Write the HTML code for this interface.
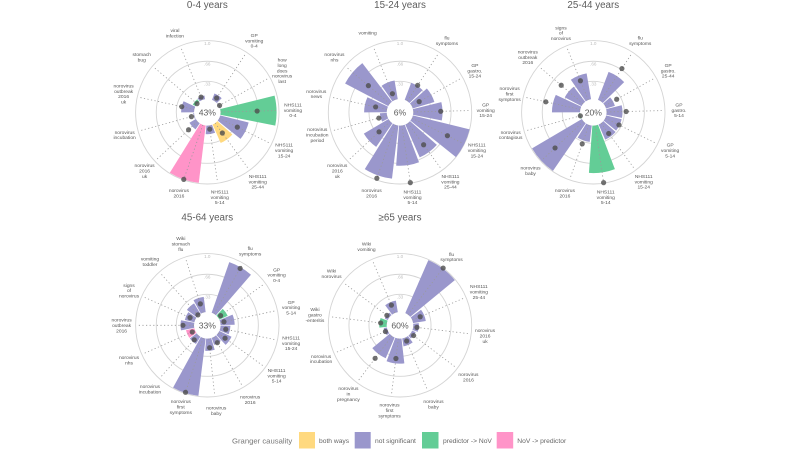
<!DOCTYPE html>
<html lang="en">
<head>
<meta charset="utf-8">
<title>Granger causality by age group</title>
<style>
  html, body { margin: 0; padding: 0; background: #fff; }
  body { width: 800px; height: 452px; overflow: hidden; }
  svg { display: block; filter: blur(0.35px); font-family: "Liberation Sans", sans-serif; }
</style>
</head>
<body>
<svg id="chart" width="800" height="452" viewBox="0 0 800 452" xmlns="http://www.w3.org/2000/svg">
  <g id="panels"></g>
  <g id="legend">
    <text x="232" y="443.4" font-size="7.7" fill="#777">Granger causality</text>
    <rect x="299" y="432" width="16" height="16.5" fill="#FFD97F"/>
    <text x="319" y="443" font-size="6.7" fill="#666">both ways</text>
    <rect x="354.7" y="432" width="16" height="16.5" fill="#9A97CC"/>
    <text x="375" y="443" font-size="6.7" fill="#666">not significant</text>
    <rect x="422" y="432" width="16.5" height="16.5" fill="#63CD96"/>
    <text x="443" y="443" font-size="6.7" fill="#666">predictor -&gt; NoV</text>
    <rect x="496.7" y="432" width="16.5" height="16.5" fill="#FF94C8"/>
    <text x="517.3" y="443" font-size="6.7" fill="#666">NoV -&gt; predictor</text>
  </g>
</svg>
<script>
// ---- data: 0-4 years ----
const categories04 = ["GP|vomiting|0-4", "how|long|does|norovirus|last", "NHS111|vomiting|0-4", "NHS111|vomiting|15-24", "NHS111|vomiting|25-44", "NHS111|vomiting|5-14", "norovirus|2016", "norovirus|2016|uk", "norovirus|incubation", "norovirus|outbreak|2016|uk", "stomach|bug", "viral|infection"];
const bars04 = [0.15, 0.05, 0.96, 0.52, 0.37, 0.18, 0.99, 0.16, 0.05, 0.25, 0.09, 0.10];
const dots04 = [0.10, 0.05, 0.64, 0.37, 0.24, 0.10, 0.99, 0.24, 0.09, 0.25, 0.04, 0.09];
const groups04 = ["ns", "ns", "pred", "ns", "both", "ns", "nov", "ns", "ns", "ns", "pred", "ns"];

// ---- data: 15-24 years ----
const categories1524 = ["flu|symptoms", "GP|gastro.|15-24", "GP|vomiting|15-24", "NHS111|vomiting|15-24", "NHS111|vomiting|25-44", "NHS111|vomiting|5-14", "norovirus|2016", "norovirus|2016|uk", "norovirus|incubation|period", "norovirus|news", "norovirus|nhs", "vomiting"];
const bars1524 = [0.34, 0.41, 0.52, 1.00, 0.63, 0.70, 0.92, 0.51, 0.15, 0.41, 0.84, 0.35];
const dots1524 = [0.35, 0.18, 0.49, 0.69, 0.48, 0.99, 0.97, 0.29, 0.18, 0.23, 0.50, 0.15];
const groups1524 = ["ns", "ns", "ns", "ns", "ns", "ns", "ns", "ns", "ns", "ns", "ns", "ns"];

// ---- data: 25-44 years ----
const categories2544 = ["flu|symptoms", "GP|gastro.|25-44", "GP|gastro.|5-14", "GP|vomiting|5-14", "NHS111|vomiting|15-24", "NHS111|vomiting|5-14", "norovirus|2016", "norovirus|baby", "norovirus|contagious", "norovirus|first|symptoms", "norovirus|outbreak|2016", "signs|of|norovirus"];
const bars2544 = [0.53, 0.19, 0.30, 0.30, 0.31, 0.82, 0.31, 0.99, 0.05, 0.50, 0.35, 0.47];
const dots2544 = [0.68, 0.26, 0.36, 0.29, 0.25, 0.99, 0.37, 0.68, 0.04, 0.62, 0.51, 0.38];
const groups2544 = ["ns", "ns", "ns", "ns", "ns", "pred", "ns", "ns", "pred", "ns", "ns", "ns"];

// ---- data: 45-64 years ----
const categories4564 = ["flu|symptoms", "GP|vomiting|0-4", "GP|vomiting|5-14", "NHS111|vomiting|15-24", "NHS111|vomiting|5-14", "norovirus|2016", "norovirus|baby", "norovirus|first|symptoms", "norovirus|incubation", "norovirus|nhs", "norovirus|outbreak|2016", "signs|of|norovirus", "vomiting|toddler", "Wiki|stomach|flu"];
const bars4564 = [0.92, 0.19, 0.27, 0.20, 0.26, 0.16, 0.24, 0.99, 0.18, 0.18, 0.26, 0.20, 0.24, 0.29];
const dots4564 = [0.90, 0.09, 0.10, 0.13, 0.18, 0.15, 0.19, 0.98, 0.14, 0.09, 0.22, 0.13, 0.05, 0.19];
const groups4564 = ["ns", "pred", "ns", "ns", "ns", "ns", "ns", "ns", "ns", "nov", "ns", "ns", "ns", "ns"];

// ---- data: >=65 years ----
const categories65 = ["flu|symptoms", "NHS111|vomiting|25-44", "norovirus|2016|uk", "norovirus|2016", "norovirus|baby", "norovirus|first|symptoms", "norovirus|in|pregnancy", "norovirus|incubation", "Wiki|gastro|-enteritis", "Wiki|norovirus", "Wiki|vomiting"];
const bars65 = [0.99, 0.25, 0.13, 0.10, 0.17, 0.45, 0.41, 0.09, 0.16, 0.09, 0.23];
const dots65 = [1.00, 0.18, 0.10, 0.10, 0.10, 0.37, 0.50, 0.08, 0.14, 0.09, 0.18];
const groups65 = ["ns", "ns", "ns", "ns", "ns", "ns", "ns", "ns", "pred", "ns", "ns"];

const ringValues = [0.33, 0.66, 1];
const ringLabels = [".33", ".66", "1.0"];

const NS = "http://www.w3.org/2000/svg";
const fills = { ns: "#9A97CC", pred: "#63CD96", nov: "#FF94C8", both: "#FFD97F" };
const R0 = 11, R1 = 71.7, HOLE = 13.3, LABEL_R = 85.7;

function radius(v) { return R0 + v * (R1 - R0); }
function point(cx, cy, r, deg) {
  const a = deg * Math.PI / 180;
  return [cx + r * Math.sin(a), cy - r * Math.cos(a)];
}
function make(tag, parent) {
  const el = document.createElementNS(NS, tag);
  parent.appendChild(el);
  return el;
}

function drawPanel(title, percent, categories, bars, dots, groups, cx, cy, titleY, offset) {
  const n = categories.length;
  const step = 360 / (n + 1);
  const theta = i => offset + step * (i + 1);
  const slug = title.replace(/[^0-9a-z]+/gi, "-").replace(/^-|-$/g, "");

  const g = make("g", document.getElementById("panels"));
  
  

  const titleEl = make("text", g);
  
  
  titleEl.setAttribute("x", cx);
  titleEl.setAttribute("y", titleY);
  titleEl.setAttribute("text-anchor", "middle");
  titleEl.setAttribute("font-size", "9.8");
  titleEl.setAttribute("fill", "#5c5c5c");
  titleEl.textContent = title;

  ringValues.forEach(v => {
    const ring = make("circle", g);
    
    
    ring.setAttribute("cx", cx);
    ring.setAttribute("cy", cy);
    ring.setAttribute("r", radius(v));
    ring.setAttribute("fill", "none");
    ring.setAttribute("stroke", "#d4d4d4");
    ring.setAttribute("stroke-width", "0.9");
  });

  bars.forEach((v, i) => {
    const half = step * 0.45;
    const r = radius(v);
    const a = point(cx, cy, r, theta(i) - half);
    const b = point(cx, cy, r, theta(i) + half);
    const bar = make("path", g);
    
    
    bar.setAttribute("d", "M" + cx + " " + cy + "L" + a[0] + " " + a[1] + "A" + r + " " + r + " 0 0 1 " + b[0] + " " + b[1] + "Z");
    bar.setAttribute("fill", fills[groups[i]]);
  });

  categories.forEach((label, i) => {
    const from = point(cx, cy, HOLE, theta(i));
    const to = point(cx, cy, R1 - 2, theta(i));
    const spoke = make("line", g);
    
    
    spoke.setAttribute("x1", from[0]);
    spoke.setAttribute("y1", from[1]);
    spoke.setAttribute("x2", to[0]);
    spoke.setAttribute("y2", to[1]);
    spoke.setAttribute("stroke", "#9a9a9a");
    spoke.setAttribute("stroke-width", "0.8");
    spoke.setAttribute("stroke-dasharray", "1.2 2.4");

    const pos = point(cx, cy, LABEL_R, theta(i));
    const lines = label.split("|");
    const text = make("text", g);
    
    
    text.setAttribute("text-anchor", "middle");
    text.setAttribute("font-size", "4.9");
    text.setAttribute("fill", "#555");
    lines.forEach((line, k) => {
      const span = make("tspan", text);
      span.setAttribute("x", pos[0]);
      span.setAttribute("y", pos[1] + (k - (lines.length - 1) / 2) * 5.35 + 1.7);
      span.textContent = line;
    });
  });

  const hole = make("circle", g);
  
  
  hole.setAttribute("cx", cx);
  hole.setAttribute("cy", cy);
  hole.setAttribute("r", HOLE);
  hole.setAttribute("fill", "#fff");

  ringValues.forEach((v, k) => {
    const tick = make("text", g);
    
    
    tick.setAttribute("x", cx);
    tick.setAttribute("y", cy - radius(v) + 4.2);
    tick.setAttribute("text-anchor", "middle");
    tick.setAttribute("font-size", "4.6");
    tick.setAttribute("fill", "#bdbdbd");
    tick.textContent = ringLabels[k];
  });

  dots.forEach((v, i) => {
    const p = point(cx, cy, radius(v), theta(i));
    const dot = make("circle", g);
    
    
    dot.setAttribute("cx", p[0]);
    dot.setAttribute("cy", p[1]);
    dot.setAttribute("r", "2.6");
    dot.setAttribute("fill", "#4d4d4d");
    dot.setAttribute("fill-opacity", "0.8");
  });

  const pct = make("text", g);
  
  
  pct.setAttribute("x", cx);
  pct.setAttribute("y", cy + 3);
  pct.setAttribute("text-anchor", "middle");
  pct.setAttribute("font-size", "8.6");
  pct.setAttribute("fill", "#5c5c5c");
  pct.textContent = percent;
}

drawPanel("0-4 years", "43%", categories04, bars04, dots04, groups04, 207.3, 112.3, 8.2, 5.5);
drawPanel("15-24 years", "6%", categories1524, bars1524, dots1524, groups1524, 400, 112.3, 8.2, 5.5);
drawPanel("25-44 years", "20%", categories2544, bars2544, dots2544, groups2544, 593.3, 112.3, 8.2, 5.5);
drawPanel("45-64 years", "33%", categories4564, bars4564, dots4564, groups4564, 207.3, 325.3, 220.5, 6);
drawPanel("≥65 years", "60%", categories65, bars65, dots65, groups65, 400, 325.3, 220.5, 7);
</script>
</body>
</html>
